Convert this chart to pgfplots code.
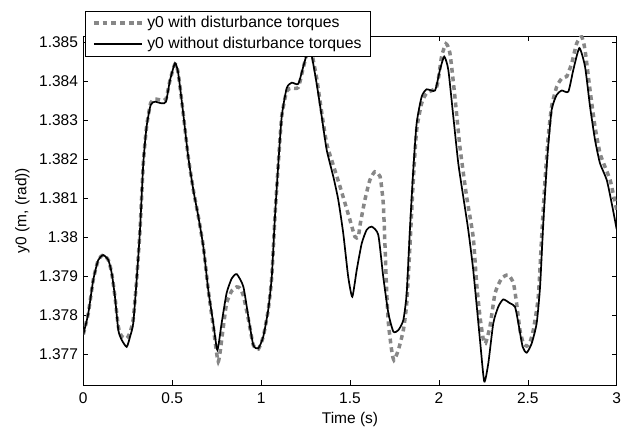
\documentclass[border=0pt]{standalone}
\usepackage{fontspec}
\setmainfont{Liberation Sans}
\usepackage{pgfplots}
\pgfplotsset{compat=1.18}
\definecolor{dotgray}{RGB}{135,135,135}
\begin{document}
\fontsize{15.5bp}{18bp}\selectfont
\begin{tikzpicture}
\begin{axis}[
  scale only axis, width=533.4bp, height=349bp,
  xmin=0, xmax=3, ymin=1.3762, ymax=1.38517,
  xtick={0,0.5,1,1.5,2,2.5,3}, xticklabels={0,0.5,1,1.5,2,2.5,3},
  ytick={1.377,1.378,1.379,1.380,1.381,1.382,1.383,1.384,1.385},
  yticklabels={1.377,1.378,1.379,1.38,1.381,1.382,1.383,1.384,1.385},
  scaled y ticks=false, scaled x ticks=false,
  /pgf/number format/assume math mode=true,
  tick align=inside, major tick length=5bp,
  every tick/.style={black, line width=0.6bp},
  axis line style={line width=0.7bp},
  xticklabel style={yshift=-2bp},
  xlabel={Time (s)}, ylabel={y0 (m, (rad))},
  xlabel style={at={(rel axis cs:0.5,-0.0974)}, anchor=center},
  ylabel style={at={(rel axis cs:-0.1144,0.5)}, anchor=center},
  legend cell align=left,
  legend image code/.code={\draw[#1] (0bp,0bp) -- (48bp,0bp);},
  legend style={at={(0.003,1.0725)}, anchor=north west, draw=black, line width=0.6bp, fill=white,
    font=\fontsize{15.8bp}{18bp}\selectfont,
    inner xsep=7bp, inner ysep=3.3bp, row sep=3bp, column sep=1.6bp,
    nodes={inner sep=2bp}},
]
\addplot[dotgray, line width=3.5bp, dash pattern=on 4.8bp off 3.9bp, smooth, tension=0.35] coordinates {
(0,1.3775) (0.028,1.37804) (0.056,1.3789) (0.084,1.37941) (0.112,1.37954)
(0.141,1.37941) (0.16,1.37907) (0.178,1.37847) (0.197,1.3777) (0.216,1.37745)
(0.244,1.3774) (0.263,1.37755) (0.281,1.3779) (0.30,1.3789) (0.319,1.38019)
(0.3375,1.3819) (0.356,1.38284) (0.379,1.38345) (0.403,1.38355) (0.441,1.38352)
(0.465,1.38355) (0.488,1.38404) (0.516,1.38445) (0.534,1.38421) (0.562,1.38318)
(0.59,1.38207) (0.619,1.38121) (0.647,1.38053) (0.675,1.37976) (0.703,1.37864)
(0.731,1.3777) (0.759,1.3768) (0.785,1.3776) (0.806,1.3783) (0.835,1.37862)
(0.863,1.37872) (0.881,1.37869) (0.90,1.3785) (0.928,1.3779) (0.956,1.37723)
(0.984,1.37712) (1.012,1.37744) (1.04,1.37813) (1.06,1.37898) (1.078,1.38053)
(1.097,1.3819) (1.116,1.3831) (1.144,1.38375) (1.172,1.38383) (1.209,1.38385)
(1.237,1.38435) (1.256,1.38468) (1.27,1.3848) (1.284,1.38475) (1.312,1.3841)
(1.341,1.3832) (1.369,1.3824) (1.406,1.38185) (1.444,1.3813) (1.472,1.38087)
(1.5,1.38044) (1.528,1.38001) (1.547,1.3800) (1.556,1.3803) (1.584,1.38096)
(1.612,1.38147) (1.64,1.38168) (1.669,1.38156) (1.687,1.38087) (1.697,1.37976)
(1.706,1.37864) (1.716,1.37779) (1.734,1.3771) (1.747,1.37684) (1.772,1.3771)
(1.80,1.37761) (1.819,1.3783) (1.837,1.37976) (1.856,1.38147) (1.875,1.38276)
(1.903,1.38344) (1.931,1.3837) (1.988,1.38387) (2.015,1.38464) (2.04,1.38497)
(2.062,1.38473) (2.09,1.38361) (2.118,1.38233) (2.156,1.38104) (2.193,1.38)
(2.212,1.37882) (2.231,1.37796) (2.25,1.37736) (2.262,1.37727) (2.287,1.3777)
(2.316,1.37856) (2.353,1.37894) (2.39,1.37903) (2.419,1.37882) (2.437,1.3783)
(2.456,1.37761) (2.475,1.37727) (2.494,1.3772) (2.51,1.37727) (2.531,1.37761)
(2.559,1.37847) (2.578,1.38001) (2.597,1.38147) (2.615,1.38258) (2.634,1.38336)
(2.663,1.38387) (2.691,1.38408) (2.719,1.38413) (2.747,1.38447) (2.775,1.38498)
(2.803,1.38515) (2.822,1.38481) (2.85,1.38378) (2.878,1.38284) (2.906,1.38216)
(2.934,1.38181) (2.963,1.38147) (2.984,1.38104) (3.0,1.3807)
};
\addlegendentry{y0 with disturbance torques}
\addplot[black, line width=1.7bp, smooth, tension=0.35] coordinates {
(0,1.3775) (0.028,1.37804) (0.056,1.3789) (0.084,1.37941) (0.112,1.37954)
(0.141,1.37941) (0.16,1.37907) (0.178,1.37847) (0.197,1.37761) (0.216,1.37736)
(0.244,1.37718) (0.263,1.37744) (0.281,1.37779) (0.30,1.3789) (0.319,1.38019)
(0.3375,1.3819) (0.356,1.38284) (0.379,1.3834) (0.403,1.38348) (0.441,1.38344)
(0.465,1.38348) (0.488,1.38404) (0.516,1.38447) (0.534,1.38421) (0.562,1.38318)
(0.59,1.38207) (0.619,1.38121) (0.647,1.38053) (0.675,1.37976) (0.703,1.37864)
(0.731,1.37779) (0.754,1.3771) (0.778,1.37779) (0.806,1.37856) (0.835,1.37894)
(0.863,1.37905) (0.90,1.37873) (0.928,1.37796) (0.956,1.37723) (0.984,1.37714)
(1.012,1.37744) (1.04,1.37813) (1.06,1.37898) (1.078,1.38053) (1.097,1.3819)
(1.116,1.3831) (1.144,1.38383) (1.172,1.38397) (1.209,1.38394) (1.237,1.38438)
(1.256,1.38468) (1.27,1.38474) (1.284,1.38468) (1.312,1.38396) (1.341,1.3831)
(1.369,1.38224) (1.406,1.38156) (1.434,1.38096) (1.462,1.3801) (1.49,1.37898)
(1.513,1.37847) (1.538,1.37916) (1.566,1.37984) (1.594,1.38019) (1.622,1.38027)
(1.659,1.38006) (1.687,1.37898) (1.716,1.37804) (1.744,1.37757) (1.772,1.37761)
(1.80,1.37787) (1.819,1.37856) (1.837,1.38019) (1.856,1.38173) (1.875,1.38293)
(1.903,1.38361) (1.931,1.3838) (1.978,1.38377) (2.006,1.3843) (2.03,1.38464)
(2.053,1.3843) (2.081,1.3831) (2.109,1.3819) (2.137,1.38104) (2.165,1.38019)
(2.193,1.37916) (2.231,1.37736) (2.255,1.37629) (2.278,1.37676) (2.306,1.37779)
(2.334,1.37821) (2.362,1.3784) (2.40,1.3783) (2.428,1.37821) (2.447,1.37779)
(2.471,1.37718) (2.494,1.37703) (2.522,1.37727) (2.55,1.37779) (2.569,1.37873)
(2.587,1.38036) (2.61,1.38207) (2.634,1.38327) (2.663,1.38366) (2.691,1.38377)
(2.728,1.38374) (2.756,1.3843) (2.79,1.38486) (2.822,1.38438) (2.85,1.38336)
(2.878,1.3825) (2.906,1.3819) (2.944,1.38147) (2.972,1.38087) (3.0,1.3802)
};
\addlegendentry{y0 without disturbance torques}
\end{axis}
\pgfresetboundingbox
\path[use as bounding box] (current axis.south west) ++(-83.3bp,-43bp) rectangle ++(622bp,428bp);
\end{tikzpicture}
\end{document}
